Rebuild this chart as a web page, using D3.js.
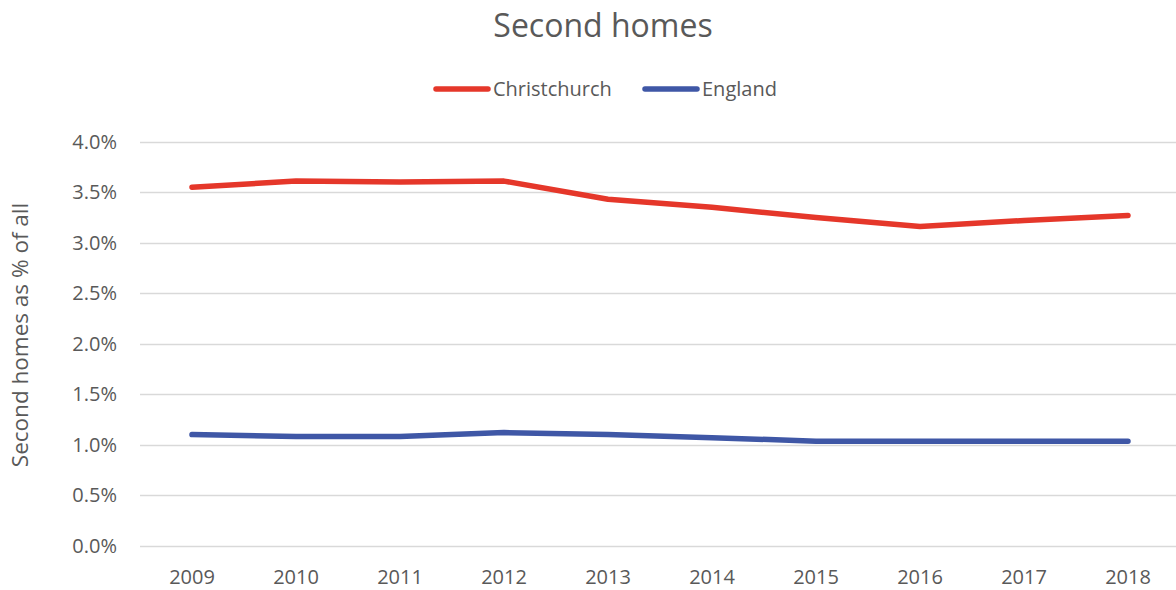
<!DOCTYPE html>
<html>
<head>
<meta charset="utf-8">
<script src="https://cdn.jsdelivr.net/npm/d3@7"></script>
<style>
  body { margin: 0; background: #fff; }
  svg { display: block; font-family: "Open Sans", "Noto Sans", sans-serif; }
</style>
</head>
<body>
<svg id="viz" width="1176" height="590"></svg>
<script>
const years = ["2009", "2010", "2011", "2012", "2013", "2014", "2015", "2016", "2017", "2018"];
const christchurch = [3.55, 3.61, 3.60, 3.61, 3.43, 3.35, 3.25, 3.16, 3.22, 3.27];
const england = [1.10, 1.08, 1.08, 1.12, 1.10, 1.07, 1.035, 1.035, 1.035, 1.035];
const yTicks = [0, 0.5, 1, 1.5, 2, 2.5, 3, 3.5, 4];

const series = [
    {name: "Christchurch", values: christchurch, color: "#e5372a"},
    {name: "England", values: england, color: "#3f57a6"}
];

const svg = d3.select("#viz");
const margin = {top: 141.7, left: 140, right: -4, bottom: 44.3};
const W = 1176, H = 590;

const x = d3.scaleBand()
    .domain(years)
    .range([margin.left, W - margin.right]);
const y = d3.scaleLinear()
    .domain([0, 4])
    .range([H - margin.bottom, margin.top]);

// gridlines
svg.append("g")
    .selectAll("line")
    .data(yTicks)
    .enter()
    .append("line")
    .attr("x1", margin.left)
    .attr("x2", W - margin.right)
    .attr("y1", (d) => Math.round(y(d)) + 0.5)
    .attr("y2", (d) => Math.round(y(d)) + 0.5)
    .attr("stroke", "#d9d9d9")
    .attr("stroke-width", 1.5);

// y axis labels
const yAxis = svg.append("g")
    .attr("transform", `translate(${margin.left - 23},0)`)
    .call(d3.axisLeft(y).tickValues(yTicks).tickFormat((d) => d.toFixed(1) + "%").tickSize(0).tickPadding(0));
yAxis.select(".domain").remove();
yAxis.selectAll("text")
    .attr("fill", "#595959")
    .style("font-size", "20px")
    .style("font-family", "'Open Sans', sans-serif");

// x axis labels
const xAxis = svg.append("g")
    .attr("transform", `translate(0,${H - margin.bottom})`)
    .call(d3.axisBottom(x).tickSize(0).tickPadding(24));
xAxis.select(".domain").remove();
xAxis.selectAll("text")
    .attr("fill", "#595959")
    .style("font-size", "20px")
    .style("font-family", "'Open Sans', sans-serif");

// lines
const line = d3.line()
    .x((d, i) => x(years[i]) + x.bandwidth() / 2)
    .y((d) => y(d));

svg.selectAll("path.series")
    .data(series)
    .enter()
    .append("path")
    .attr("class", "series")
    .attr("d", (d) => line(d.values))
    .attr("fill", "none")
    .attr("stroke", (d) => d.color)
    .attr("stroke-width", 5.5)
    .attr("stroke-linecap", "round")
    .attr("stroke-linejoin", "round");

// title
svg.append("text")
    .attr("x", 603)
    .attr("y", 37)
    .attr("text-anchor", "middle")
    .attr("fill", "#595959")
    .style("font-size", "32px")
    .text("Second homes");

// legend
const legendX = [436, 645];
const legend = svg.selectAll("g.legend")
    .data(series)
    .enter()
    .append("g")
    .attr("class", "legend")
    .attr("transform", (d, i) => `translate(${legendX[i]},89)`);
legend.append("line")
    .attr("x1", 0)
    .attr("x2", 52)
    .attr("stroke", (d) => d.color)
    .attr("stroke-width", 5.5)
    .attr("stroke-linecap", "round");
legend.append("text")
    .attr("x", 57)
    .attr("dy", "0.35em")
    .attr("fill", "#595959")
    .style("font-size", "20px")
    .text((d) => d.name);

// y axis title
svg.append("text")
    .attr("transform", `translate(28,335) rotate(-90)`)
    .attr("text-anchor", "middle")
    .attr("fill", "#595959")
    .style("font-size", "22.5px")
    .text("Second homes as % of all");
</script>
</body>
</html>
